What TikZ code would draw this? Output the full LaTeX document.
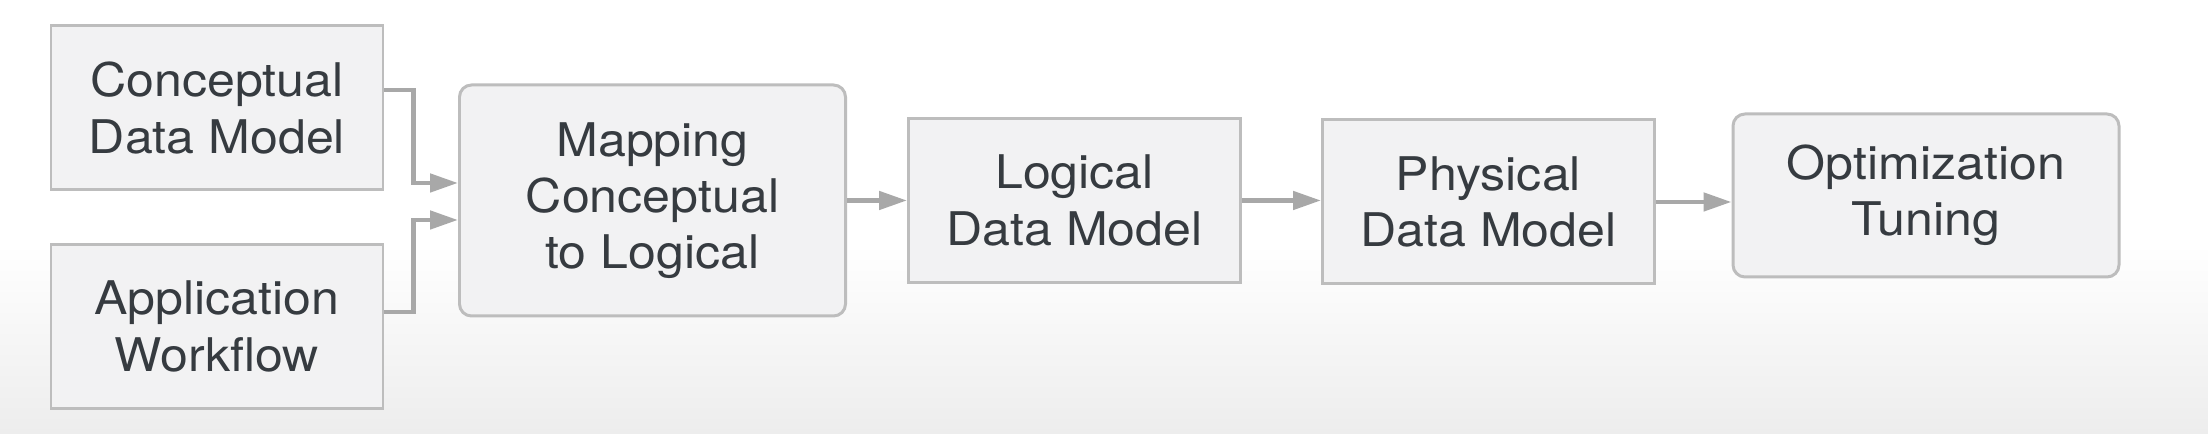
\documentclass[tikz,border=0pt]{standalone}
\usepackage{fontspec}
\setmainfont{TeX Gyre Heros}[FakeStretch=1.08]
\usepackage{xcolor}
\usetikzlibrary{positioning,arrows.meta}

\definecolor{boxfill}{HTML}{F2F2F3}
\definecolor{boxline}{HTML}{BDBDBD}
\definecolor{boxtext}{HTML}{363B40}
\definecolor{linkcol}{HTML}{A8A8A8}
\definecolor{bgbottom}{HTML}{EDEDED}

\begin{document}
\begin{tikzpicture}[
  >={Triangle[length=0.28cm, width=0.18cm]},
  block/.style={draw=boxline, line width=0.85pt, rectangle, fill=boxfill, text=boxtext, align=center,
    font=\fontsize{13.2}{16}\selectfont, minimum width=3.32cm, minimum height=1.64cm, inner sep=0pt},
  roundblock/.style={block, rounded corners=0.12cm, minimum width=3.86cm},
  link/.style={->, draw=linkcol, line width=1.35pt}
]

% Background
\fill[white] (0,0) rectangle (22.08,4.34);
\fill[top color=white, bottom color=bgbottom] (0,0) rectangle (22.08,1.9);
\useasboundingbox (0,0) rectangle (22.08,4.34);

% Boxes
\node[block] (concept) at (2.17,3.26) {Conceptual\\Data Model};
\node[block] (workflow) at (2.17,1.075) {Application\\Workflow};
\node[roundblock, minimum height=2.31cm] (mapping) at (6.525,2.335) {Mapping\\Conceptual\\to Logical};
\node[block] (logical) at (10.745,2.335) {Logical\\Data Model};
\node[block] (physical) at (14.885,2.32) {Physical\\Data Model};
\node[roundblock, minimum height=1.63cm] (tuning) at (19.26,2.385) {Optimization\\Tuning};

% Arrows
\draw[link] ([yshift=1.8mm]concept.east) -- ++(0.29,0) |- ([yshift=1.75mm]mapping.west);
\draw[link] ([yshift=1.45mm]workflow.east) -- ++(0.29,0) |- ([yshift=-1.95mm]mapping.west);
\draw[link] (mapping.east) -- (logical.west);
\draw[link] (logical.east) -- (physical.west |- logical.east);
\draw[link] (physical.east) -- (tuning.west |- physical.east);

\end{tikzpicture}
\end{document}
